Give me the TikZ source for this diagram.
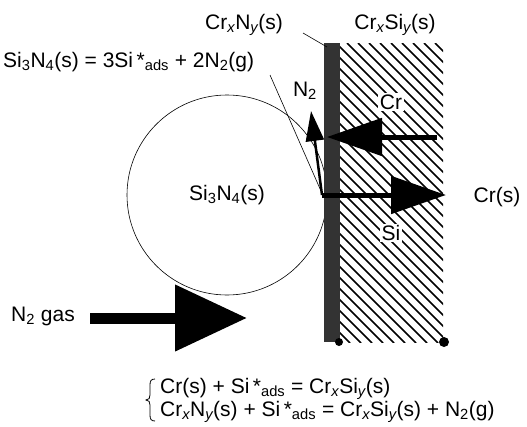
\documentclass[tikz,border=0pt]{standalone}
\usepackage{fontspec}
\setmainfont{Liberation Sans}
\usetikzlibrary{arrows.meta}
\newcommand{\sbs}[1]{\textsubscript{#1}}
\newcommand{\isb}[1]{\textsubscript{\itshape #1}}
\begin{document}
\begin{tikzpicture}[x=1pt,y=-1pt,
  lbl/.style={inner sep=0pt,font=\fontsize{21}{23}\selectfont},
  onhatch/.style={lbl,fill=white,inner sep=1.5pt},
  leader/.style={line width=0.6pt},
  hatchline/.style={line width=1.7pt},
  dotnode/.style={circle,fill=black,inner sep=0pt},
  bigarrow/.style={line width=#1,-{Triangle[length=55pt,width=37pt]}}
]
\useasboundingbox (0,0) rectangle (527,426);
% particle
\node[circle,draw,line width=0.6pt,minimum size=200pt,inner sep=0pt,
      font=\fontsize{21}{23}\selectfont] (part) at (227,195) {Si\sbs{3}N\sbs{4}(s)};
% hatched silicide layer
\begin{scope}
  \clip (340,43) rectangle (443,342);
  \foreach \k in {-28,...,10}
    \draw[hatchline] (336+\k*11,43) -- ++(300,300);
\end{scope}
% nitride strip
\fill[black!80] (324,43) rectangle (340,342);
% dots
\node[dotnode,minimum size=8pt] (d1) at (339,342) {};
\node[dotnode,minimum size=10pt] (d2) at (444,342) {};
% labels
\node[lbl] (crn) at (244,25) {Cr\isb{x}N\isb{y}(s)};
\node[lbl] (crsi) at (395,25) {Cr\isb{x}Si\isb{y}(s)};
\node[lbl,anchor=west] (eq1) at (3,62) {Si\sbs{3}N\sbs{4}(s) = 3Si\,*\sbs{ads} + 2N\sbs{2}(g)};
\node[lbl] (n2) at (305,91) {N\sbs{2}};
\node[onhatch] (cr) at (391,102) {Cr};
\node[lbl] (crs) at (497,197) {Cr(s)};
\node[onhatch] (si) at (391,233) {Si};
\node[lbl] (n2gas) at (43,316) {N\sbs{2} gas};
\node[lbl,anchor=west,align=left] (eqs) at (160,400)
  {Cr(s) + Si\,*\sbs{ads} = Cr\isb{x}Si\isb{y}(s)\\
   Cr\isb{x}N\isb{y}(s) + Si\,*\sbs{ads} = Cr\isb{x}Si\isb{y}(s) + N\sbs{2}(g)};
% brace
\draw[line width=0.8pt] (155,379) .. controls (151,379) and (150,381) .. (150,385)
  -- (150,395) .. controls (150,398) and (149,400) .. (146,400)
  .. controls (149,400) and (150,402) .. (150,405)
  -- (150,415) .. controls (150,419) and (151,421) .. (155,421);
% coordinates
\coordinate (lA) at (303,33);
\coordinate (lB) at (327,47);
\coordinate (lC) at (270,75);
\coordinate (lD) at (321,191);
\coordinate (react) at (322,195);
\coordinate (crStart) at (437,137);
\coordinate (crEnd) at (327,137);
\coordinate (siEnd) at (446,195);
\coordinate (n2End) at (311,111);
\coordinate (gasStart) at (90,318);
\coordinate (gasEnd) at (247,318);
% leaders
\draw[leader] (lA) -- (lB);
\draw[leader] (lC) -- (lD);
% arrows
\draw[bigarrow=5pt] (crStart) -- (crEnd);
\draw[bigarrow=5pt] (react) -- (siEnd);
\draw[line width=2.5pt,-{Triangle[length=30pt,width=18pt]}] (react) -- (n2End);
\draw[line width=11pt,-{Triangle[length=72pt,width=64pt]}] (gasStart) -- (gasEnd);
\end{tikzpicture}
\end{document}
